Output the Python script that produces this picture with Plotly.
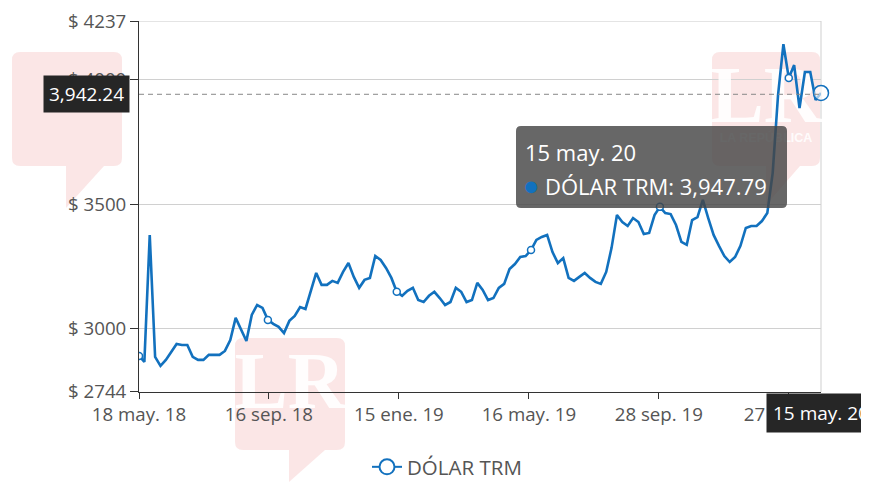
import plotly.graph_objects as go

# ---------------- data ----------------
paso_dias = 5
valores = [
    2889, 2865, 3376, 2885, 2849, 2873, 2905, 2937, 2933, 2933,
    2885, 2873, 2873, 2893, 2893, 2893, 2909, 2953, 3042, 2994,
    2949, 3054, 3094, 3082, 3034, 3018, 3006, 2981, 3030, 3050,
    3086, 3078, 3155, 3223, 3175, 3175, 3191, 3183, 3227, 3263,
    3207, 3163, 3195, 3203, 3291, 3275, 3243, 3203, 3147, 3131,
    3151, 3163, 3114, 3106, 3131, 3147, 3122, 3094, 3106, 3163,
    3147, 3106, 3114, 3183, 3155, 3114, 3122, 3163, 3179, 3239,
    3259, 3287, 3291, 3315, 3356, 3368, 3376, 3307, 3263, 3283,
    3203, 3191, 3207, 3223, 3203, 3187, 3179, 3227, 3324, 3456,
    3428, 3412, 3444, 3428, 3380, 3384, 3456, 3489, 3464, 3460,
    3416, 3348, 3336, 3436, 3448, 3517, 3444, 3376, 3332, 3291,
    3267, 3287, 3332, 3404, 3412, 3412, 3432, 3464, 3625, 3939,
    4144, 4008, 4060, 3887, 4032, 4032, 3919, 3947.79,
]
dias = [i * paso_dias for i in range(len(valores))]

tick_dias = [0, 121, 242, 363, 484, 605]
tick_textos = ["18 may. 18", "16 sep. 18", "15 ene. 19", "16 may. 19", "28 sep. 19", "27 ene. 20"]

y_ticks = [2744, 3000, 3500, 4000, 4237]
y_textos = ["$ 2744", "$ 3000", "$ 3500", "$ 4000", "$ 4237"]

serie = "DÓLAR TRM"
fecha_cursor = "15 may. 20"
valor_cursor = 3942.24
valor_tooltip = "3,947.79"

# ---------------- style / layout helpers ----------------
# the page has an 8px body margin; the figure is sized so the plot area
# lands at page pixels x 139..821, y 21..392
W, H = 861, 492
L, R, T, B = 131, 48, 13, 108
PX0, PX1, PY0, PY1 = 139, 821, 21, 392
AZUL = "#1271be"
GRID = "#d0d0d0"
FUENTE = "Open Sans, Noto Sans, sans-serif"
Y_MIN, Y_MAX = y_ticks[0] - 0.3, y_ticks[-1] + 0.3


def px(xp):
    return (xp - PX0) / (PX1 - PX0)


def py(yp):
    return (PY1 - yp) / (PY1 - PY0)


fig = go.Figure()


def rounded_path(x0, y0, x1, y1, r, tail):
    s = f"M {px(x0 + r)} {py(y0)} L {px(x1 - r)} {py(y0)} Q {px(x1)} {py(y0)} {px(x1)} {py(y0 + r)} "
    s += f"L {px(x1)} {py(y1 - r)} Q {px(x1)} {py(y1)} {px(x1 - r)} {py(y1)} "
    if tail:
        tx0, ty, tx1 = tail
        s += f"L {px(tx1)} {py(y1)} L {px(tx0)} {py(ty)} L {px(tx0)} {py(y1)} "
    s += f"L {px(x0 + r)} {py(y1)} Q {px(x0)} {py(y1)} {px(x0)} {py(y1 - r)} "
    s += f"L {px(x0)} {py(y0 + r)} Q {px(x0)} {py(y0)} {px(x0 + r)} {py(y0)} Z"
    return s


marcas = [
    (12, 52, 122, 166, (66, 208, 104)),
    (235, 338, 345, 450, (289, 482, 325)),
    (712, 52, 820, 166, (766, 205, 800)),
]
shapes = []
annotations = []
for (x0, y0, x1, y1, tail) in marcas:
    shapes.append(dict(type="path", xref="paper", yref="paper", layer="below",
                       path=rounded_path(x0, y0, x1, y1, 8, tail),
                       fillcolor="rgba(225,60,60,0.13)", line=dict(width=0)))


def to_dx(xp):
    return px(xp) * (dias[-1] - dias[0]) + dias[0]


def to_dy(yp):
    return Y_MIN + py(yp) * (Y_MAX - Y_MIN)


# watermark texts as background traces (the data line is drawn over them)
fig.add_trace(go.Scatter(
    x=[to_dx((m[0] + m[2]) / 2) for m in marcas], y=[to_dy(m[1] + 50) for m in marcas],
    text=["<b>LR</b>"] * 3, mode="text", cliponaxis=False, hoverinfo="skip", showlegend=False,
    textfont=dict(family="Liberation Serif, DejaVu Serif, serif", size=80,
                  color="rgba(255,255,255,0.9)")))
fig.add_trace(go.Scatter(
    x=[to_dx((m[0] + m[2]) / 2) for m in marcas], y=[to_dy(m[1] + 87) for m in marcas],
    text=["<b>LA REPÚBLICA</b>"] * 3, mode="text", cliponaxis=False,
    hoverinfo="skip", showlegend=False,
    textfont=dict(family="Liberation Sans, Arial, sans-serif", size=12.5,
                  color="rgba(255,255,255,0.9)")))

# main line
fig.add_trace(go.Scatter(x=dias, y=valores, mode="lines", showlegend=False,
                         line=dict(color=AZUL, width=2.6), hoverinfo="skip"))

# symbols at tick points
idx = [round(d / paso_dias) for d in tick_dias]
fig.add_trace(go.Scatter(x=[dias[i] for i in idx], y=[valores[i] for i in idx],
                         mode="markers", showlegend=False, hoverinfo="skip",
                         marker=dict(size=7, color="white", line=dict(color=AZUL, width=1.5))))
# hovered last point
fig.add_trace(go.Scatter(x=[dias[-1]], y=[valores[-1]], mode="markers", showlegend=False,
                         hoverinfo="skip", cliponaxis=False,
                         marker=dict(size=15, color="rgba(255,255,255,0.6)",
                                     line=dict(color=AZUL, width=1.5))))
# legend entry
fig.add_trace(go.Scatter(x=[None], y=[None], mode="lines+markers", name=serie,
                         line=dict(color=AZUL, width=2),
                         marker=dict(size=15, color="white", line=dict(color=AZUL, width=2))))

# top grid line (edge of range) and right border
shapes.append(dict(type="line", xref="x domain", yref="y", x0=0, x1=1,
                   y0=y_ticks[-1], y1=y_ticks[-1], layer="below",
                   line=dict(color=GRID, width=1)))
shapes.append(dict(type="line", xref="x domain", yref="y domain", x0=1, x1=1, y0=0, y1=1,
                   layer="below", line=dict(color="#cfcfcf", width=1)))
# crosshair
shapes.append(dict(type="line", xref="x domain", yref="y", x0=0, x1=1,
                   y0=valor_cursor, y1=valor_cursor, layer="above",
                   line=dict(color="#888", width=1, dash="5px,4px")))
# tooltip box
shapes.append(dict(type="path", xref="paper", yref="paper", layer="above",
                   path=rounded_path(516, 126, 787, 208, 5, None),
                   fillcolor="rgba(70,70,70,0.82)", line=dict(width=0)))

annotations += [
    dict(xref="paper", yref="paper", x=px(523), y=py(152), xanchor="left", yanchor="middle",
         text=fecha_cursor, showarrow=False, font=dict(family=FUENTE, size=22, color="white")),
    dict(xref="paper", yref="paper", x=px(521), y=py(184), xanchor="left", yanchor="middle",
         text=(f"<span style='color:{AZUL};font-size:27px'>●</span> "
               f"{serie}: {valor_tooltip}"), showarrow=False,
         font=dict(family=FUENTE, size=22, color="white")),
    dict(xref="paper", yref="y", x=px(130), y=valor_cursor, xanchor="right", yanchor="middle",
         text=f"{valor_cursor:,.2f}", showarrow=False, bgcolor="#262626", borderpad=5,
         font=dict(family=FUENTE, size=19, color="white")),
    dict(xref="x", yref="paper", x=dias[-1], y=py(413), xanchor="center", yanchor="middle",
         text=fecha_cursor, showarrow=False, bgcolor="#262626", borderpad=6,
         font=dict(family=FUENTE, size=19, color="white")),
]

fig.update_layout(
    width=W, height=H,
    margin=dict(l=L, r=R, t=T, b=B, pad=0, autoexpand=False),
    paper_bgcolor="white", plot_bgcolor="rgba(0,0,0,0)",
    font=dict(family=FUENTE, color="#555"),
    shapes=shapes, annotations=annotations,
    showlegend=True,
    legend=dict(orientation="h", x=px(447), xanchor="center", y=py(467), yanchor="middle",
                font=dict(family=FUENTE, size=20.5, color="#555"), bgcolor="rgba(0,0,0,0)"),
    xaxis=dict(range=[dias[0], dias[-1]], tickvals=tick_dias, ticktext=tick_textos,
               automargin=False, ticklabeloverflow="allow",
               showgrid=False, zeroline=False, showline=True, linecolor="#333", linewidth=1,
               ticks="outside", ticklen=6, tickcolor="#333",
               tickfont=dict(family=FUENTE, size=18.7, color="#555")),
    yaxis=dict(range=[Y_MIN, Y_MAX], tickvals=y_ticks, ticktext=y_textos,
               automargin=False, ticklabeloverflow="allow",
               showgrid=True, gridcolor=GRID, gridwidth=1, zeroline=False,
               showline=True, linecolor="#333", linewidth=1,
               ticks="outside", ticklen=8, tickcolor="#333",
               tickfont=dict(family=FUENTE, size=18.7, color="#555")),
)

fig.write_html("out.html")
